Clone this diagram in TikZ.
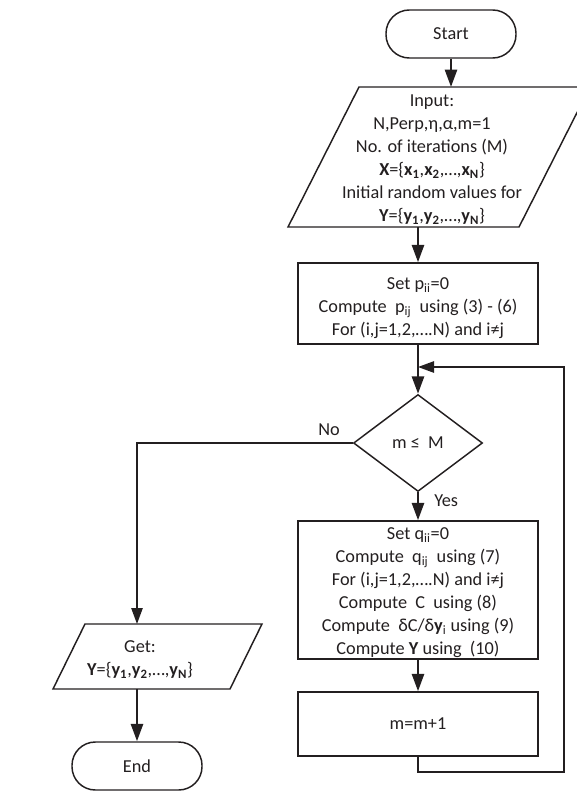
\documentclass[tikz,border=0pt]{standalone}
\usepackage{fontspec}
\setmainfont{Carlito}
\usetikzlibrary{shapes.geometric,arrows.meta}
\definecolor{ink}{HTML}{231F20}
\begin{document}
\begin{tikzpicture}[x=0.75pt,y=-0.75pt,
  every node/.style={font=\fontsize{13.7}{17.25}\selectfont, text=ink},
  term/.style={draw=ink, line width=1.1pt, rectangle, rounded corners=17.5pt, minimum width=97.5pt, minimum height=36pt, inner sep=0pt},
  procbox/.style={draw=ink, line width=1.1pt, rectangle, minimum width=180pt, inner sep=0pt, align=center},
  decis/.style={draw=ink, line width=1.1pt, diamond, minimum width=96.75pt, minimum height=72.75pt, inner sep=0pt},
  txt/.style={inner sep=0pt, align=center},
  outline/.style={draw=ink, line width=1.1pt},
  arr/.style={draw=ink, line width=1.9pt, -{Triangle[length=13pt,width=9pt]}},
  thinarr/.style={draw=ink, line width=1.2pt, -{Triangle[length=12pt,width=8.5pt]}},
  lbl/.style={inner sep=0pt}
]
\useasboundingbox (0,0) rectangle (577,792);

% Start
\node[term] (start) at (451,34) {Start};

% Input parallelogram
\coordinate (inTL) at (359,87);
\coordinate (inTR) at (590,87);
\coordinate (inBR) at (519,227);
\coordinate (inBL) at (288,227);
\draw[outline] (inTL) -- (inTR) -- (inBR) -- (inBL) -- cycle;
\node[txt] (input) at (432,159.5) {Input:\\
N,Perp,η,α,m=1\\
No. of iterations (M)\\
\textbf{X}=\{\textbf{x}\textsubscript{\textbf{1}},\textbf{x}\textsubscript{\textbf{2}},…,\textbf{x}\textsubscript{\textbf{N}}\}\\
Initial random values for\\
\textbf{Y}=\{\textbf{y}\textsubscript{\textbf{1}},\textbf{y}\textsubscript{\textbf{2}},…,\textbf{y}\textsubscript{\textbf{N}}\}};
\coordinate (inTop) at (451,87);
\coordinate (inBot) at (418,227);

% Set p
\node[procbox, minimum height=60.75pt] (setp) at (418,303.5) {};
\node[txt] (setptxt) at (418,308) {Set p\textsubscript{ii}=0\\
Compute\ \ p\textsubscript{ij}\ \ using (3) - (6)\\
For (i,j=1,2,….N) and i≠j};

% Decision
\node[decis] (dec) at (418,443) {m ≤\ \ M};
\node[lbl] (nolbl) at (329,430) {No};
\node[lbl, anchor=west] (yeslbl) at (434,501) {Yes};

% Set q
\node[procbox, minimum height=103.5pt] (setq) at (418,590) {};
\node[txt] (setqtxt) at (418,593) {Set q\textsubscript{ii}=0\\
Compute\ \ q\textsubscript{ij}\ \ using (7)\\
For (i,j=1,2,….N) and i≠j\\
Compute\ \ C\ \ using (8)\\
Compute\ \ δC/δ\textbf{y}\textsubscript{i} using (9)\\
Compute \textbf{Y} using\ \ (10)};

% m=m+1
\node[procbox, minimum height=48pt] (mbox) at (418,724) {m=m+1};

% Get parallelogram
\coordinate (gTL) at (85,624);
\coordinate (gTR) at (262,624);
\coordinate (gBR) at (230,689);
\coordinate (gBL) at (53,689);
\draw[outline] (gTL) -- (gTR) -- (gBR) -- (gBL) -- cycle;
\node[txt] (get) at (140,660) {Get:\\
\textbf{Y}=\{\textbf{y}\textsubscript{\textbf{1}},\textbf{y}\textsubscript{\textbf{2}},…,\textbf{y}\textsubscript{\textbf{N}}\}};
\coordinate (gTop) at (137,624);
\coordinate (gBot) at (137,689);

% End
\node[term] (end) at (137,766) {End};

% loop coordinates
\coordinate (loopB) at (564,772);
\coordinate (loopJ) at (418,367);

% connectors
\draw[arr] (start) -- (inTop);
\draw[arr] (inBot) -- (setp);
\draw[arr] (setp) -- (dec);
\draw[arr] (dec) -- (setq);
\draw[arr] (setq) -- (mbox);
\draw[thinarr] (mbox.south) |- (loopB) -- (loopB |- loopJ) -- (loopJ);
\draw[thinarr] (dec.west) -| (gTop);
\draw[arr] (gBot) -- (end);
\end{tikzpicture}
\end{document}
